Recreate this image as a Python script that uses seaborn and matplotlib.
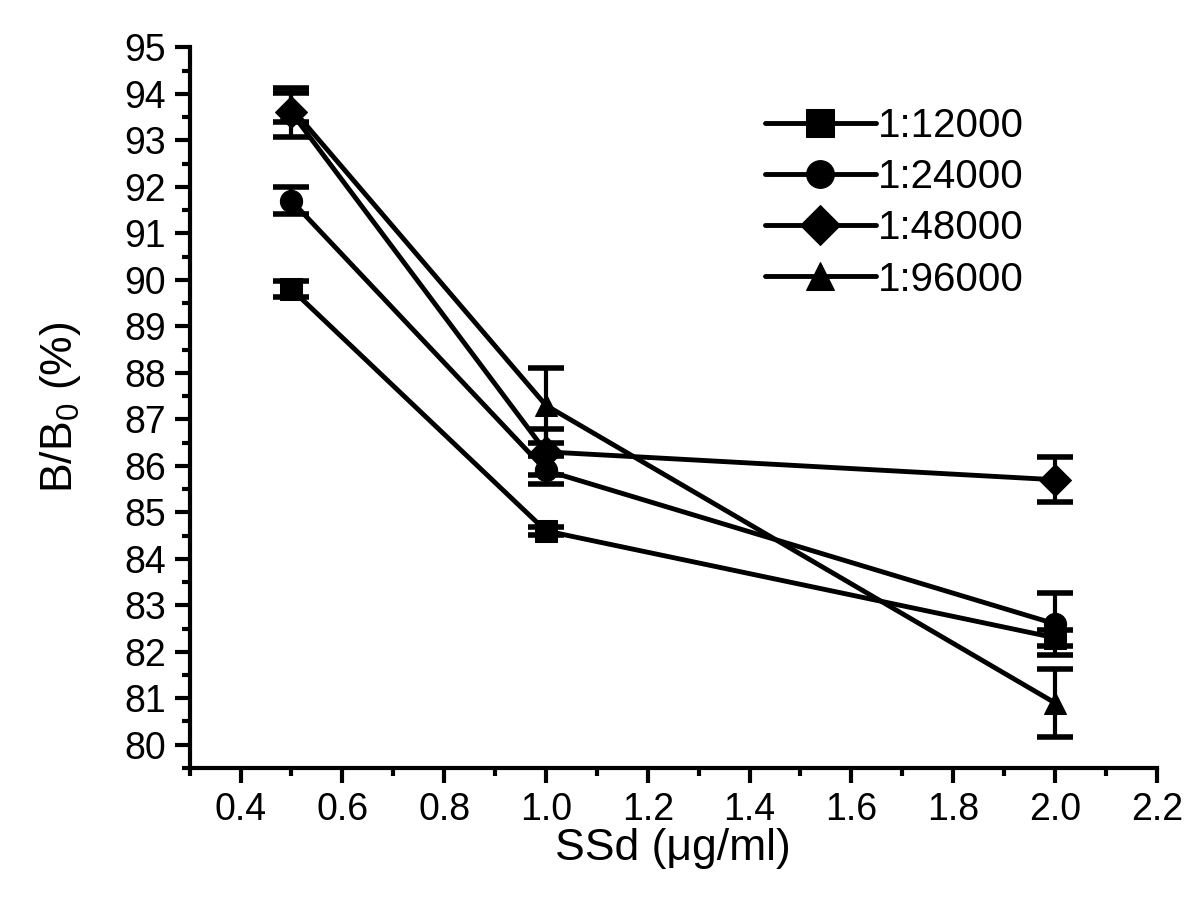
import numpy as np
import pandas as pd
import matplotlib
matplotlib.use("Agg")
import matplotlib.pyplot as plt
import seaborn as sns
from matplotlib.ticker import MultipleLocator

# values
conc = [0.5, 1.0, 2.0]
dilutions = ["1:12000", "1:24000", "1:48000", "1:96000"]
b_12000 = [89.8, 84.6, 82.3]
b_24000 = [91.7, 85.9, 82.6]
b_48000 = [93.6, 86.3, 85.7]
b_96000 = [93.7, 87.3, 80.9]
err_12000 = [0.18, 0.08, 0.17]
err_24000 = [0.29, 0.3, 0.67]
err_48000 = [0.53, 0.5, 0.48]
err_96000 = [0.31, 0.8, 0.73]

values = [b_12000, b_24000, b_48000, b_96000]
errors = [err_12000, err_24000, err_48000, err_96000]

rows = []
for name, vals, errs in zip(dilutions, values, errors):
    for x, v, e in zip(conc, vals, errs):
        rows.append({"SSd": x, "B": v, "err": e, "dilution": name})
df = pd.DataFrame(rows)

sns.set_theme(style="ticks", rc={"text.color": "black", "axes.labelcolor": "black",
                                 "xtick.color": "black", "ytick.color": "black",
                                 "axes.edgecolor": "black"})
plt.rcParams['font.family'] = ['Liberation Sans', 'DejaVu Sans']
plt.rcParams['mathtext.fontset'] = 'custom'
plt.rcParams['mathtext.rm'] = 'Liberation Sans'
plt.rcParams['mathtext.it'] = 'Liberation Sans'

fig = plt.figure(figsize=(12, 9.11), dpi=100)
ax = fig.add_axes([0.158, 0.157, 0.806, 0.791])

markers = {"1:12000": "s", "1:24000": "o", "1:48000": "D", "1:96000": "^"}

for name in dilutions:
    sub = df[df.dilution == name]
    ax.errorbar(sub.SSd, sub.B, yerr=sub.err, fmt="none", ecolor="black",
                elinewidth=3, capsize=13, capthick=4, zorder=2)

sns.lineplot(data=df, x="SSd", y="B", hue="dilution", style="dilution",
             palette=["black"] * 4, markers=markers, dashes=False,
             linewidth=3.5, markersize=16, markeredgecolor="black",
             errorbar=None, ax=ax, zorder=3)

ax.set_xlim(0.3, 2.2)
ax.set_ylim(79.5, 95)
xt = np.arange(0.4, 2.21, 0.2)
ax.set_xticks(xt)
ax.set_xticklabels([f"{t:.1f}" for t in xt])
ax.xaxis.set_minor_locator(MultipleLocator(0.1))
ax.set_yticks(np.arange(80, 96, 1))
ax.yaxis.set_minor_locator(MultipleLocator(0.5))

ax.tick_params(which="major", length=11, width=3, labelsize=27, direction="out", pad=6)
ax.tick_params(which="minor", length=6, width=3, direction="out")
for s in ["left", "bottom"]:
    ax.spines[s].set_linewidth(3)
sns.despine(ax=ax)

ax.set_xlabel("SSd (μg/ml)", fontsize=32, labelpad=0)
ax.set_ylabel("B/B$_0$ (%)", fontsize=32, labelpad=30)

leg = ax.legend(loc="upper left", bbox_to_anchor=(0.578, 0.94), frameon=False,
                fontsize=29, handlelength=2.75, handletextpad=0.05, labelspacing=0.33,
                borderaxespad=0, title=None, markerscale=1.25)
for h in leg.legend_handles:
    h.set_linewidth(3.5)
    h.set_markeredgecolor("black")

fig.savefig("out.png", dpi=100)
